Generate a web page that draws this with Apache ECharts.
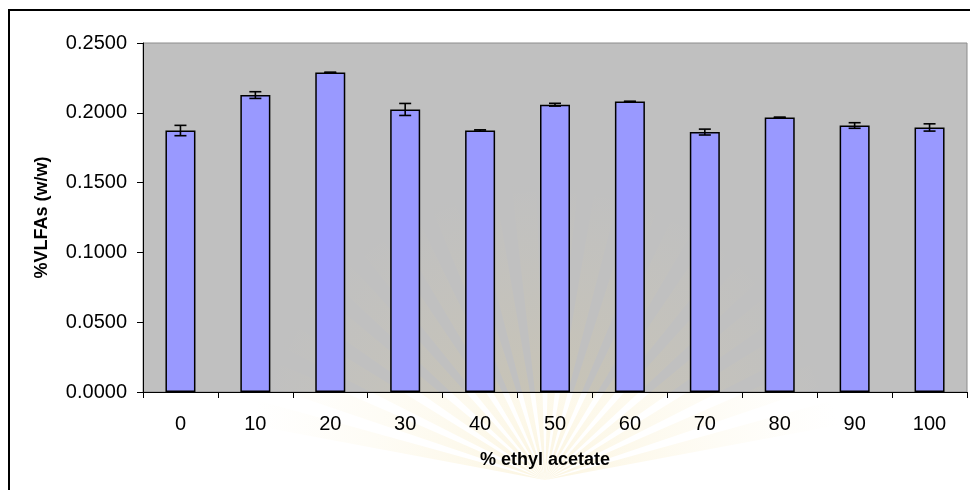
<!DOCTYPE html>
<html>
<head>
<meta charset="utf-8">
<script src="https://cdn.jsdelivr.net/npm/echarts@6/dist/echarts.min.js"></script>
<style>
  html, body { margin: 0; padding: 0; background: #fff; }
  #chart { width: 970px; height: 490px; }
</style>
</head>
<body>
<div id="chart"></div>
<script>
// Ethyl acetate fraction (%) and measured VLFAs content (% w/w)
const categories = ['0', '10', '20', '30', '40', '50', '60', '70', '80', '90', '100'];
const vlfaMean   = [0.1873, 0.2127, 0.2289, 0.2024, 0.1873, 0.2058, 0.2081, 0.1862, 0.1967, 0.1909, 0.1895];
const vlfaError  = [0.0037, 0.0024, 0.0002, 0.0043, 0.0005, 0.0010, 0.0002, 0.0021, 0.0002, 0.0020, 0.0026];
const yTicks     = { min: 0, max: 0.25, step: 0.05 };

const FONT = 'Liberation Sans, Arial, sans-serif';

const chart = echarts.init(document.getElementById('chart'), null, { renderer: 'canvas' });

// faint sunburst emblem in the background
function sunburst(cx, cy, r, n) {
  const items = [];
  const a0 = Math.PI * 1.05, a1 = Math.PI * 1.95;
  for (let i = 0; i < n; i++) {
    const t = a0 + (a1 - a0) * (i + 0.5) / n;
    const w = (a1 - a0) / n * 0.3;
    items.push({
      type: 'polygon',
      shape: { points: [
        [cx, cy],
        [cx + r * Math.cos(t - w), cy + r * Math.sin(t - w)],
        [cx + r * Math.cos(t + w), cy + r * Math.sin(t + w)]
      ] },
      style: {
        fill: new echarts.graphic.RadialGradient(cx, cy, r, [
          { offset: 0, color: 'rgba(238,210,120,0.22)' },
          { offset: 0.55, color: 'rgba(242,218,135,0.09)' },
          { offset: 1, color: 'rgba(245,225,150,0)' }
        ], true)
      },
      silent: true
    });
  }
  return items;
}

const errorData = vlfaMean.map((m, i) => [i, m, vlfaError[i]]);

chart.setOption({
  animation: false,
  backgroundColor: '#ffffff',
  grid: {
    left: 143, right: 3, top: 43, bottom: 98,
    show: true,
    backgroundColor: '#c0c0c0',
    borderColor: '#8c8c8c',
    borderWidth: 1
  },
  xAxis: {
    type: 'category',
    data: categories,
    name: '% ethyl acetate',
    nameLocation: 'middle',
    nameGap: 59,
    nameTextStyle: {
      fontFamily: FONT, fontSize: 18, fontWeight: 'bold', color: '#000',
      padding: [0, 20, 0, 0]
    },
    axisLine: { show: true, lineStyle: { color: '#000', width: 1 } },
    axisTick: { show: true, length: 6, lineStyle: { color: '#000' } },
    axisLabel: { fontFamily: FONT, fontSize: 20, color: '#000', margin: 22 },
    splitLine: { show: false }
  },
  yAxis: {
    type: 'value',
    min: yTicks.min,
    max: yTicks.max,
    interval: yTicks.step,
    name: '%VLFAs (w/w)',
    nameLocation: 'middle',
    nameGap: 92,
    nameRotate: 90,
    nameTextStyle: { fontFamily: FONT, fontSize: 18, fontWeight: 'bold', color: '#000' },
    axisLine: { show: true, lineStyle: { color: '#000', width: 1 } },
    axisTick: { show: true, length: 6, lineStyle: { color: '#000' } },
    axisLabel: {
      fontFamily: FONT, fontSize: 20, color: '#000', margin: 16,
      formatter: v => v.toFixed(4)
    },
    splitLine: { show: false }
  },
  series: [
    {
      type: 'bar',
      data: vlfaMean,
      barWidth: 30,
      itemStyle: { color: '#9999ff', borderColor: '#000', borderWidth: 1.5 },
      z: 2
    },
    {
      type: 'custom',
      data: errorData,
      z: 3,
      renderItem: function (params, api) {
        const idx = api.value(0);
        const m = api.value(1);
        const e = api.value(2);
        const top = api.coord([idx, m + e]);
        const bot = api.coord([idx, m - e]);
        const half = 6;
        const style = { stroke: '#000', lineWidth: 1.6 };
        return {
          type: 'group',
          children: [
            { type: 'line', shape: { x1: top[0], y1: top[1], x2: bot[0], y2: bot[1] }, style },
            { type: 'line', shape: { x1: top[0] - half, y1: top[1], x2: top[0] + half, y2: top[1] }, style },
            { type: 'line', shape: { x1: bot[0] - half, y1: bot[1], x2: bot[0] + half, y2: bot[1] }, style }
          ]
        };
      }
    }
  ],
  graphic: [
    {
      type: 'group',
      z: 50,
      silent: true,
      children: sunburst(545, 480, 300, 20)
    },
    {
      type: 'rect',
      z: 60,
      silent: true,
      shape: { x: 9, y: 10, width: 980, height: 500 },
      style: { fill: 'none', stroke: '#000', lineWidth: 2 }
    }
  ]
});
</script>
</body>
</html>
